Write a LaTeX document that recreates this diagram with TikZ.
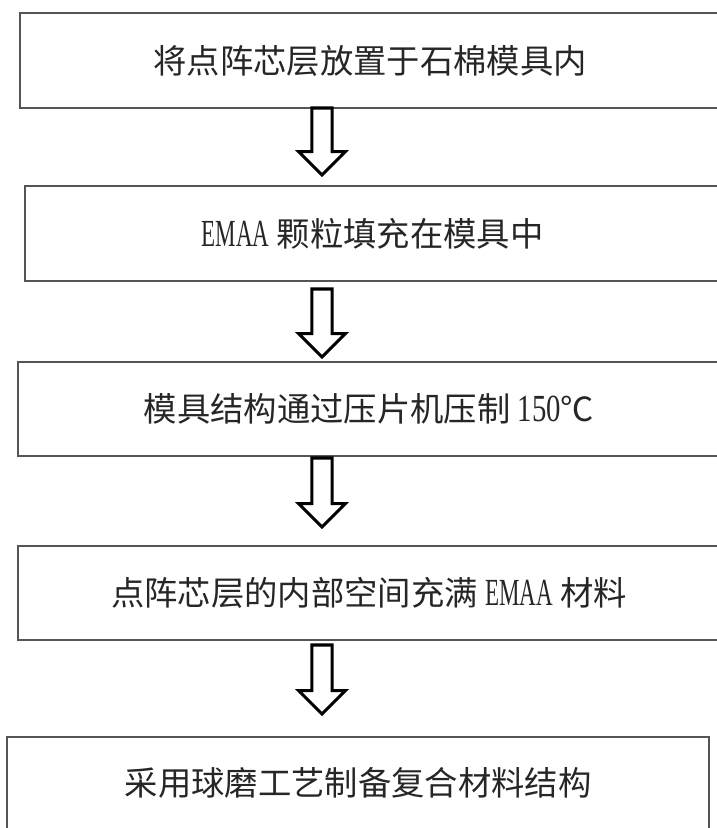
\documentclass[tikz,border=0pt]{standalone}
\usepackage{fontspec}
\setmainfont{Noto Sans CJK SC}
\newfontfamily\lat[Scale=1.15,FakeStretch=0.6]{Liberation Serif}
\newfontfamily\latnum[Scale=1.15,FakeStretch=0.75]{Liberation Serif}
\usetikzlibrary{calc}
\definecolor{boxgray}{HTML}{555555}
\definecolor{txt}{HTML}{262626}
\tikzset{
  box/.style={draw=boxgray, line width=1.5pt, rectangle, inner sep=0pt,
    font=\fontsize{25}{30}\selectfont, text=txt},
  blk/.style={draw=black, line width=2.3pt, fill=white, line join=miter},
}
\newcommand\hollowarrow[2]{%
  \draw[blk] let \p1=(#1), \p2=(#2) in
    (\x1-7.6pt,\y1) -- (\x1-7.6pt,\y2+17.5pt) -- (\x1-17.5pt,\y2+17.5pt) --
    (\x2,\y2) -- (\x1+17.5pt,\y2+17.5pt) -- (\x1+7.6pt,\y2+17.5pt) --
    (\x1+7.6pt,\y1) -- cycle;}
\begin{document}
\begin{tikzpicture}[x=0.75pt,y=-0.75pt]
  \clip (0,0) rectangle (717,828);
  \useasboundingbox (0,0) rectangle (717,828);
  \node[box, minimum width=525pt, minimum height=71.25pt] (b1) at (370,60.5)
    {将点阵芯层放置于石棉模具内};
  \node[box, minimum width=521.25pt, minimum height=71.25pt] (b2) at (372.5,233.5)
    {{\lat EMAA} 颗粒填充在模具中};
  \node[box, minimum width=526.5pt, minimum height=70.5pt] (b3) at (369,409)
    {模具结构通过压片机压制 {\latnum 150}℃};
  \node[box, minimum width=526.5pt, minimum height=70.5pt] (b4) at (369,593)
    {点阵芯层的内部空间充满 {\lat EMAA} 材料};
  \node[box, minimum width=526.5pt, minimum height=69pt] (b5) at (358,783)
    {采用球磨工艺制备复合材料结构};
  \coordinate (a1s) at (322,108);
  \coordinate (a1e) at (322,175);
  \coordinate (a2s) at (322,289);
  \coordinate (a2e) at (322,357);
  \coordinate (a3s) at (322,458);
  \coordinate (a3e) at (322,527);
  \coordinate (a4s) at (322,645);
  \coordinate (a4e) at (322,714);
  \hollowarrow{a1s}{a1e}
  \hollowarrow{a2s}{a2e}
  \hollowarrow{a3s}{a3e}
  \hollowarrow{a4s}{a4e}
\end{tikzpicture}
\end{document}
